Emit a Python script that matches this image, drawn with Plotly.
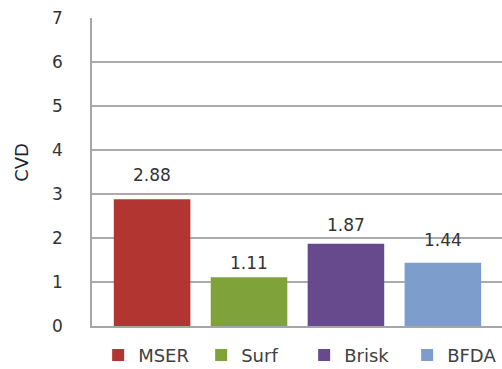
import plotly.graph_objects as go

methods = ["MSER", "Surf", "Brisk", "BFDA"]
cvd = [2.88, 1.11, 1.87, 1.44]
y_ticks = [0, 1, 2, 3, 4, 5, 6, 7]

colors = ["#B23532", "#80A23B", "#674A8E", "#7D9DCC"]
label_shift = [12, 2, 7, 11]

FONT = "DejaVu Sans"
fig = go.Figure()
for m, v, c in zip(methods, cvd, colors):
    fig.add_trace(go.Bar(x=[m], y=[v], name=m, marker=dict(color=c, line=dict(width=0)),
                         hoverinfo="skip"))

for m, v, s in zip(methods, cvd, label_shift):
    fig.add_annotation(x=m, y=v, text=f"{v:.2f}", showarrow=False, yanchor="bottom",
                       yshift=s, font=dict(family=FONT, size=17, color="#333333"))

fig.add_annotation(xref="paper", yref="paper", x=0, y=0.53, xshift=-70, text="CVD",
                   textangle=-90, showarrow=False, xanchor="center", yanchor="middle",
                   font=dict(family=FONT, size=18, color="#1a2238"))

fig.update_layout(
    width=502, height=369,
    margin=dict(l=92, r=0, t=18, b=43, autoexpand=False),
    paper_bgcolor="white", plot_bgcolor="white",
    barmode="overlay", bargap=0.21,
    showlegend=True,
    legend=dict(orientation="h", x=0.015, y=-0.035, xanchor="left", yanchor="top",
                font=dict(family=FONT, size=18, color="#404040"),
                itemwidth=30, traceorder="normal", tracegroupgap=0,
                entrywidth=58, entrywidthmode="pixels"),
    xaxis=dict(range=[-0.62, 3.61], showticklabels=False, showgrid=False, ticks="",
               showline=True, linecolor="#A6A6A6", linewidth=1.5, zeroline=False),
    yaxis=dict(range=[0, 7], tickvals=y_ticks, showgrid=True, gridcolor="#ABABAB", gridwidth=1.5,
               showline=True, linecolor="#A6A6A6", linewidth=1.5, zeroline=False,
               ticks="", ticklabelstandoff=24,
               tickfont=dict(family=FONT, size=17, color="#333333")),
)

fig.write_html("out.html")
